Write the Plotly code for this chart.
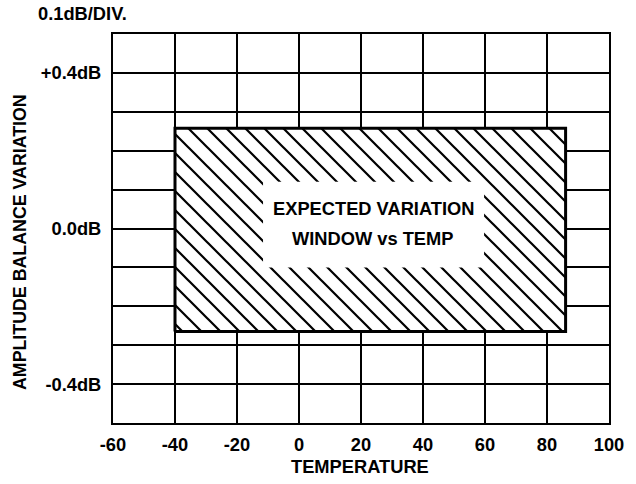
import plotly.graph_objects as go

# Axis data
x_ticks = [-60, -40, -20, 0, 20, 40, 60, 80, 100]
y_ticks = [-0.5, -0.4, -0.3, -0.2, -0.1, 0.0, 0.1, 0.2, 0.3, 0.4, 0.5]
y_ticktext = ["", "-0.4dB", "", "", "", "0.0dB", "", "", "", "+0.4dB", ""]

# Expected variation window (temperature range, dB range)
window_temp = [-40, 86]
window_db = [-0.265, 0.258]

# Label box limits (temperature, dB)
label_temp = [-11.6, 59.7]
label_db = [-0.10, 0.12]
label_lines = ["EXPECTED VARIATION", "WINDOW vs TEMP"]

FONT = "Liberation Sans, Arial, sans-serif"
FS = 18.3

W, H = 636, 484
ML, MR, MT, MB = 113, 27, 34, 61
PW, PH = W - ML - MR, H - MT - MB


def px_x(px):
    return (px - ML) / PW


def px_y(py):
    return 1 - (py - MT) / PH


fig = go.Figure()

fig.add_trace(go.Scatter(
    x=[window_temp[0], window_temp[1], window_temp[1], window_temp[0], window_temp[0]],
    y=[window_db[0], window_db[0], window_db[1], window_db[1], window_db[0]],
    mode="lines",
    fill="toself",
    fillcolor="white",
    fillpattern=dict(shape="\\", size=19 / 2 ** 0.5, solidity=0.165, fgcolor="#000000",
                     bgcolor="white", fgopacity=1),
    line=dict(color="black", width=3),
    hoverinfo="skip",
    showlegend=False,
))

fig.add_shape(type="rect", xref="x", yref="y",
              x0=label_temp[0], x1=label_temp[1], y0=label_db[0], y1=label_db[1],
              fillcolor="white", line=dict(width=0), layer="above")

for txt, py in zip(label_lines, [208, 238]):
    fig.add_annotation(x=px_x(373), y=px_y(py), xref="paper", yref="paper",
                       text=f"<b>{txt}</b>", showarrow=False,
                       xanchor="center", yanchor="middle",
                       font=dict(family=FONT, size=FS, color="black"))

fig.add_annotation(x=px_x(36), y=px_y(13), xref="paper", yref="paper", text="<b>0.1dB/DIV.</b>",
                   showarrow=False, xanchor="left", yanchor="middle",
                   font=dict(family=FONT, size=FS, color="black"))

fig.add_annotation(x=px_x(360), y=px_y(466), xref="paper", yref="paper", text="<b>TEMPERATURE</b>",
                   showarrow=False, xanchor="center", yanchor="middle",
                   font=dict(family=FONT, size=FS, color="black"))

fig.add_annotation(x=px_x(20), y=px_y(242), xref="paper", yref="paper",
                   text="<b>AMPLITUDE BALANCE VARIATION</b>", textangle=-90,
                   showarrow=False, xanchor="center", yanchor="middle",
                   font=dict(family=FONT, size=17.8, color="black"))

fig.update_layout(
    width=W, height=H,
    margin=dict(l=ML, r=MR, t=MT, b=MB, pad=0),
    paper_bgcolor="white", plot_bgcolor="white",
    font=dict(family=FONT, size=FS, color="black"),
    showlegend=False,
    xaxis=dict(
        range=[-60, 100], tickvals=x_ticks, ticktext=[f"<b>{v}</b>" for v in x_ticks],
        showgrid=True, gridcolor="black", gridwidth=1.5,
        zeroline=False, showline=True, linecolor="black", linewidth=2, mirror=True,
        ticks="", ticklen=0, ticklabelstandoff=4,
    ),
    yaxis=dict(
        range=[-0.5, 0.5], tickvals=y_ticks,
        ticktext=[f"<b>{t}</b>" if t else "" for t in y_ticktext],
        showgrid=True, gridcolor="black", gridwidth=1.5,
        zeroline=False, showline=True, linecolor="black", linewidth=2, mirror=True,
        ticks="", ticklen=0, ticklabelstandoff=6,
    ),
)

fig.write_html("out.html", config={"displayModeBar": False},
               post_script="document.body.style.margin='0px';")
